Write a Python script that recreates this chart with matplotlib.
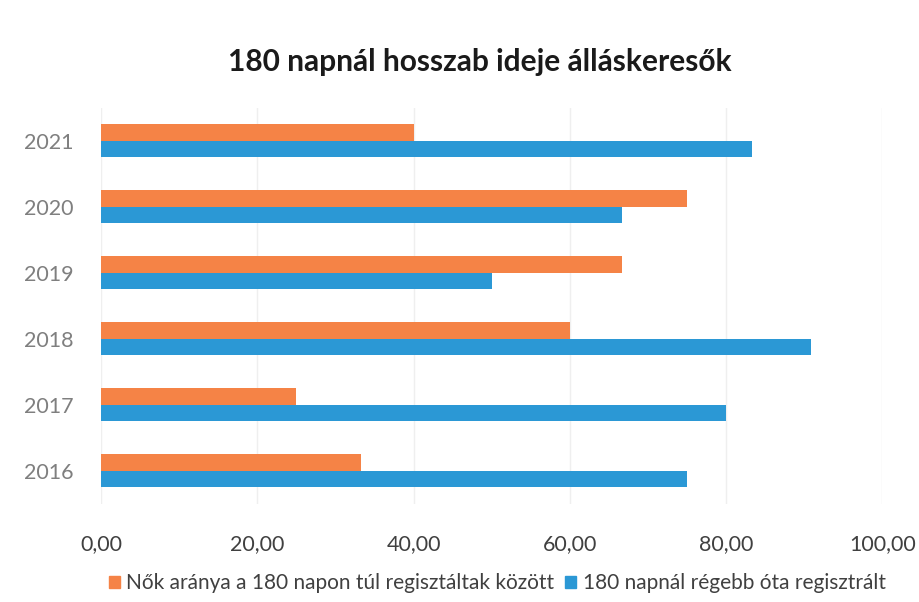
import numpy as np
import matplotlib.pyplot as plt
from matplotlib.patches import Patch

plt.rcParams['font.family'] = ['Lato', 'DejaVu Sans']

years = ['2016', '2017', '2018', '2019', '2020', '2021']
women_share = [33.3, 25.0, 60.0, 66.7, 75.0, 40.0]
long_term = [75.0, 80.0, 90.9, 50.0, 66.7, 83.3]
labels = ['Nők aránya a 180 napon túl regisztáltak között',
          '180 napnál régebb óta regisztrált']

orange = '#F58346'
blue = '#2B98D5'

fig = plt.figure(figsize=(9.19, 6.02), dpi=100)
ax = fig.add_axes([0.110, 0.163, 0.850, 0.658])

y = np.arange(len(years))
h = 0.25
ax.barh(y + h / 2, women_share, height=h, color=orange, zorder=3)
ax.barh(y - h / 2, long_term, height=h, color=blue, zorder=3)

ax.set_xlim(0, 100)
ax.set_ylim(-0.5, len(years) - 0.5)
ax.set_xticks(np.arange(0, 101, 20))
ax.set_xticklabels([f'{v:.2f}'.replace('.', ',') for v in np.arange(0, 101, 20)])
ax.set_yticks(y)
ax.set_yticklabels(years)
ax.grid(axis='x', color='#EFEFEF', linewidth=1, zorder=0)
for s in ax.spines.values():
    s.set_visible(False)
ax.tick_params(axis='both', length=0, labelsize=15.5, labelcolor='#7F7F7F')
ax.tick_params(axis='x', pad=22, labelcolor='#404040')
ax.tick_params(axis='y', pad=20)

fig.text(0.522, 0.897, '180 napnál hosszab ideje álláskeresők',
         ha='center', va='center', fontsize=21.5, fontweight='bold', color='#1A1A1A')

handles = [Patch(color=orange), Patch(color=blue)]
fig.legend(handles, labels, loc='center', bbox_to_anchor=(0.541, 0.031), ncol=2,
           frameon=False, fontsize=15, handlelength=0.55, handleheight=0.55,
           handletextpad=0.3, columnspacing=0.5, labelcolor='#404040')

fig.savefig('out.png', dpi=100, facecolor='white')
